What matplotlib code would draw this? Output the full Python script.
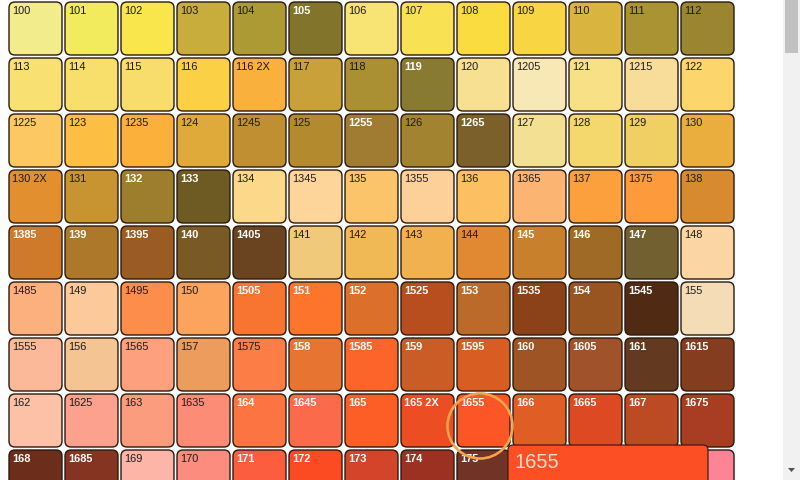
import matplotlib
matplotlib.use("Agg")
import matplotlib.pyplot as plt
from matplotlib.patches import FancyBboxPatch, Circle, Rectangle, Polygon

labels = [
    "100", "101", "102", "103", "104", "105", "106", "107", "108", "109", "110", "111", "112",
    "113", "114", "115", "116", "116 2X", "117", "118", "119", "120", "1205", "121", "1215", "122",
    "1225", "123", "1235", "124", "1245", "125", "1255", "126", "1265", "127", "128", "129", "130",
    "130 2X", "131", "132", "133", "134", "1345", "135", "1355", "136", "1365", "137", "1375", "138",
    "1385", "139", "1395", "140", "1405", "141", "142", "143", "144", "145", "146", "147", "148",
    "1485", "149", "1495", "150", "1505", "151", "152", "1525", "153", "1535", "154", "1545", "155",
    "1555", "156", "1565", "157", "1575", "158", "1585", "159", "1595", "160", "1605", "161", "1615",
    "162", "1625", "163", "1635", "164", "1645", "165", "165 2X", "1655", "166", "1665", "167", "1675",
    "168", "1685", "169", "170", "171", "172", "173", "174", "175", "176", "1765", "1767", "1775",
]

colors = [
    "#f3ec8c", "#f2eb5e", "#f8e64c", "#c8ad3c", "#ac9a35", "#82742b", "#f8e474", "#f8e254", "#fadb40", "#f8d542", "#d9b43e", "#aa9333", "#9a8531",
    "#f8e072", "#f8df6c", "#f8dc6c", "#fcd044", "#fab03c", "#c8a13a", "#ab9033", "#897a32", "#f8e092", "#f8e8b6", "#f8e086", "#f8dc9a", "#fcd66c",
    "#fcc862", "#fcbf44", "#fcb03c", "#e0aa3a", "#bf8f31", "#b48a2f", "#9f7c31", "#a2832f", "#7b6029", "#f4e092", "#f4d86e", "#f0d062", "#eaae3e",
    "#e2902f", "#c79431", "#9c7e2d", "#6e5b23", "#fcd88a", "#fdd49a", "#fcc46a", "#fdd09a", "#fcc062", "#fcb472", "#fca03e", "#fc9a3c", "#d88a31",
    "#cf7a2b", "#ad7829", "#9b5c23", "#7a5a24", "#6a4421", "#f0ca7a", "#f0b956", "#f0b14e", "#e08832", "#c8802d", "#9e6a25", "#726031", "#fcd6a2",
    "#fcb07e", "#fcc99a", "#fc8d4a", "#fca45e", "#f87531", "#fc752a", "#dc6f2a", "#b84d1d", "#bc6a29", "#8c4219", "#985421", "#502a13", "#f4dcb6",
    "#fcb99a", "#f4c492", "#fca07e", "#ec9d5e", "#fc7d46", "#e87432", "#fc652a", "#ca5d25", "#d85d22", "#9e5425", "#a0532b", "#633a1f", "#843d1f",
    "#fcc1a6", "#fca18e", "#fc9c7e", "#fc8c76", "#fc7442", "#fc6a4c", "#fc5e26", "#ec4d22", "#fc5526", "#e05d26", "#dc4922", "#bc4b24", "#a83d21",
    "#6c2e1b", "#843421", "#fcb5a6", "#fc8c7e", "#fc5d3e", "#fc4b22", "#d2452a", "#9c3121", "#703325", "#fc8a96", "#fc7a8a", "#e86478", "#fc8494",
]

white_labels = {
    "105", "119", "1255", "1265", "132", "133", "1385", "139", "1395", "140", "1405",
    "145", "146", "147", "1505", "151", "152", "1525", "153", "1535", "154", "1545",
    "158", "1585", "159", "1595", "160", "1605", "161", "1615", "164", "1645", "165",
    "165 2X", "1655", "166", "1665", "167", "1675", "168", "1685", "171", "172", "173",
    "174", "175",
}

tooltip_label = "1655"
tooltip_color = "#fc5024"
highlight_label = "1655"

W, H = 800, 481
fig = plt.figure(figsize=(W / 100, H / 100), dpi=100)
ax = fig.add_axes([0, 0, 1, 1])
ax.set_xlim(0, W)
ax.set_ylim(H, 0)
ax.axis("off")
fig.patch.set_facecolor("white")

ncol = 13
x0, y0, cw, ch, pitch = 9, 3, 53, 53, 56
PX = 0.72  # points per pixel at dpi 100

# tooltip box (pixels)
tx, ty, tw, th = 508, 446, 200, 60

for i, (lab, col) in enumerate(zip(labels, colors)):
    r, c = divmod(i, ncol)
    x = x0 + c * pitch
    y = y0 + r * pitch
    ax.add_patch(FancyBboxPatch((x, y), cw, ch,
                                boxstyle="round,pad=0,rounding_size=6",
                                fc=col, ec="#2b1a10", lw=1.4 * PX, zorder=2))
    lx, ly = x + 3.5, y + 3.5
    if tx - 2 <= lx <= tx + tw and ly >= ty - 2:
        continue  # label hidden beneath the tooltip
    white = lab in white_labels
    ax.text(lx, ly, lab, ha="left", va="top",
            fontsize=7.9, family=["Liberation Sans", "DejaVu Sans"],
            color="white" if white else "#1c1c1c",
            fontweight="bold" if white else "normal", zorder=3)

# highlight circle around selected swatch
hi = labels.index(highlight_label)
hr, hc = divmod(hi, ncol)
cx = x0 + hc * pitch + cw / 2 - 3.5
cy = y0 + hr * pitch + ch / 2 + 5.5
ax.add_patch(Circle((cx, cy), 32.5, fill=False, ec="#f6a24e", lw=2.6 * PX, zorder=4))

# tooltip
ax.add_patch(FancyBboxPatch((tx, ty), tw, th,
                            boxstyle="round,pad=0,rounding_size=5",
                            fc=tooltip_color, ec="#3a1a10", lw=1.2 * PX, zorder=5))
ax.text(514, 463, tooltip_label, ha="left", va="center", fontsize=14.5,
        family=["Liberation Sans", "DejaVu Sans"], color="#fcdcd0", zorder=6)

# scrollbar
ax.add_patch(Rectangle((783, 0), 17, H, fc="#f1f1f1", ec="none", zorder=7))
ax.add_patch(Rectangle((785, 0), 13, 54, fc="#c1c1c1", ec="none", zorder=8))
ax.add_patch(Polygon([(788, 469), (795, 469), (791.5, 473)], closed=True,
                     fc="#505050", ec="none", zorder=8))

fig.savefig("out.png", dpi=100, facecolor="white")
